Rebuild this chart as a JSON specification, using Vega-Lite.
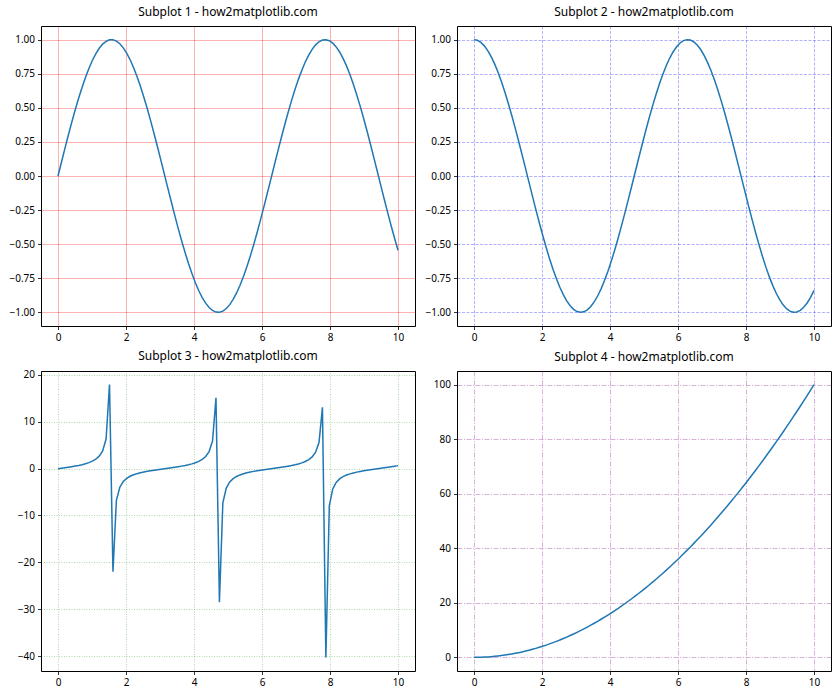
{
  "$schema": "https://vega.github.io/schema/vega-lite/v6.json",
  "background": "white",
  "padding": {"left": 8, "top": 5, "right": 5, "bottom": 5},
  "bounds": "flush",
  "columns": 2,
  "spacing": {"row": 45, "column": 42},
  "config": {
    "view": {"stroke": "#000", "strokeWidth": 1},
    "axis": {"domain": false, "tickColor": "#000", "tickSize": 3.5, "tickWidth": 0.8, "labelFont": "Noto Sans", "labelFontSize": 10, "labelColor": "#000", "labelPadding": 3, "gridWidth": 1, "gridOpacity": 0.3},
    "title": {"font": "Noto Sans", "fontSize": 12, "fontWeight": "normal", "color": "#000", "offset": 7},
    "line": {"color": "#1f77b4", "strokeWidth": 1.5}
  },
  "data": {"values": [
    {"x":0,"s":0,"c":1,"t":0,"q":0},
    {"x":0.101,"s":0.1008,"c":0.9949,"t":0.1014,"q":0.0102},
    {"x":0.202,"s":0.2007,"c":0.9797,"t":0.2048,"q":0.0408},
    {"x":0.303,"s":0.2984,"c":0.9544,"t":0.3127,"q":0.0918},
    {"x":0.404,"s":0.3931,"c":0.9195,"t":0.4276,"q":0.1632},
    {"x":0.5051,"s":0.4839,"c":0.8752,"t":0.5529,"q":0.2551},
    {"x":0.6061,"s":0.5696,"c":0.8219,"t":0.6931,"q":0.3673},
    {"x":0.7071,"s":0.6496,"c":0.7603,"t":0.8545,"q":0.4999},
    {"x":0.8081,"s":0.723,"c":0.6909,"t":1.0464,"q":0.653},
    {"x":0.9091,"s":0.789,"c":0.6145,"t":1.284,"q":0.8264},
    {"x":1.0101,"s":0.8469,"c":0.5318,"t":1.5926,"q":1.0203},
    {"x":1.1111,"s":0.8962,"c":0.4437,"t":2.02,"q":1.2346},
    {"x":1.2121,"s":0.9364,"c":0.351,"t":2.6674,"q":1.4692},
    {"x":1.3131,"s":0.967,"c":0.2548,"t":3.7947,"q":1.7243},
    {"x":1.4141,"s":0.9878,"c":0.156,"t":6.3309,"q":1.9998},
    {"x":1.5152,"s":0.9985,"c":0.0556,"t":17.952,"q":2.2957},
    {"x":1.6162,"s":0.999,"c":-0.0453,"t":-22.029,"q":2.612},
    {"x":1.7172,"s":0.9893,"c":-0.1459,"t":-6.7831,"q":2.9487},
    {"x":1.8182,"s":0.9696,"c":-0.2449,"t":-3.9595,"q":3.3058},
    {"x":1.9192,"s":0.9399,"c":-0.3414,"t":-2.7532,"q":3.6833},
    {"x":2.0202,"s":0.9007,"c":-0.4344,"t":-2.0733,"q":4.0812},
    {"x":2.1212,"s":0.8523,"c":-0.523,"t":-1.6295,"q":4.4995},
    {"x":2.2222,"s":0.7952,"c":-0.6063,"t":-1.3116,"q":4.9383},
    {"x":2.3232,"s":0.73,"c":-0.6834,"t":-1.0682,"q":5.3974},
    {"x":2.4242,"s":0.6574,"c":-0.7536,"t":-0.8724,"q":5.877},
    {"x":2.5253,"s":0.5781,"c":-0.816,"t":-0.7084,"q":6.3769},
    {"x":2.6263,"s":0.4928,"c":-0.8701,"t":-0.5664,"q":6.8973},
    {"x":2.7273,"s":0.4026,"c":-0.9154,"t":-0.4398,"q":7.438},
    {"x":2.8283,"s":0.3082,"c":-0.9513,"t":-0.324,"q":7.9992},
    {"x":2.9293,"s":0.2107,"c":-0.9776,"t":-0.2155,"q":8.5807},
    {"x":3.0303,"s":0.1111,"c":-0.9938,"t":-0.1118,"q":9.1827},
    {"x":3.1313,"s":0.0103,"c":-0.9999,"t":-0.0103,"q":9.8051},
    {"x":3.2323,"s":-0.0906,"c":-0.9959,"t":0.091,"q":10.4479},
    {"x":3.3333,"s":-0.1906,"c":-0.9817,"t":0.1941,"q":11.1111},
    {"x":3.4343,"s":-0.2886,"c":-0.9575,"t":0.3014,"q":11.7947},
    {"x":3.5354,"s":-0.3837,"c":-0.9235,"t":0.4155,"q":12.4987},
    {"x":3.6364,"s":-0.4748,"c":-0.8801,"t":0.5395,"q":13.2231},
    {"x":3.7374,"s":-0.5612,"c":-0.8277,"t":0.678,"q":13.968},
    {"x":3.8384,"s":-0.6418,"c":-0.7669,"t":0.8368,"q":14.7332},
    {"x":3.9394,"s":-0.7158,"c":-0.6983,"t":1.0251,"q":15.5188},
    {"x":4.0404,"s":-0.7826,"c":-0.6225,"t":1.2571,"q":16.3249},
    {"x":4.1414,"s":-0.8414,"c":-0.5405,"t":1.5568,"q":17.1513},
    {"x":4.2424,"s":-0.8916,"c":-0.4529,"t":1.9688,"q":17.9982},
    {"x":4.3434,"s":-0.9327,"c":-0.3606,"t":2.5863,"q":18.8654},
    {"x":4.4444,"s":-0.9643,"c":-0.2648,"t":3.6424,"q":19.7531},
    {"x":4.5455,"s":-0.9861,"c":-0.1662,"t":5.9346,"q":20.6612},
    {"x":4.6465,"s":-0.9978,"c":-0.0659,"t":15.146,"q":21.5896},
    {"x":4.7475,"s":-0.9994,"c":0.0351,"t":-28.494,"q":22.5385},
    {"x":4.8485,"s":-0.9908,"c":0.1357,"t":-7.3027,"q":23.5078},
    {"x":4.9495,"s":-0.972,"c":0.2349,"t":-4.1382,"q":24.4975},
    {"x":5.0505,"s":-0.9434,"c":0.3317,"t":-2.844,"q":25.5076},
    {"x":5.1515,"s":-0.9051,"c":0.4252,"t":-2.129,"q":26.5381},
    {"x":5.2525,"s":-0.8576,"c":0.5143,"t":-1.6677,"q":27.589},
    {"x":5.3535,"s":-0.8014,"c":0.5981,"t":-1.3399,"q":28.6603},
    {"x":5.4545,"s":-0.737,"c":0.6759,"t":-1.0904,"q":29.7521},
    {"x":5.5556,"s":-0.6651,"c":0.7468,"t":-0.8907,"q":30.8642},
    {"x":5.6566,"s":-0.5864,"c":0.81,"t":-0.7239,"q":31.9967},
    {"x":5.7576,"s":-0.5017,"c":0.865,"t":-0.58,"q":33.1497},
    {"x":5.8586,"s":-0.412,"c":0.9112,"t":-0.4521,"q":34.323},
    {"x":5.9596,"s":-0.318,"c":0.9481,"t":-0.3354,"q":35.5168},
    {"x":6.0606,"s":-0.2208,"c":0.9753,"t":-0.2263,"q":36.7309},
    {"x":6.1616,"s":-0.1213,"c":0.9926,"t":-0.1222,"q":37.9655},
    {"x":6.2626,"s":-0.0206,"c":0.9998,"t":-0.0206,"q":39.2205},
    {"x":6.3636,"s":0.0804,"c":0.9968,"t":0.0806,"q":40.4959},
    {"x":6.4646,"s":0.1805,"c":0.9836,"t":0.1835,"q":41.7917},
    {"x":6.5657,"s":0.2787,"c":0.9604,"t":0.2902,"q":43.1078},
    {"x":6.6667,"s":0.3742,"c":0.9274,"t":0.4035,"q":44.4444},
    {"x":6.7677,"s":0.4658,"c":0.8849,"t":0.5263,"q":45.8014},
    {"x":6.8687,"s":0.5526,"c":0.8334,"t":0.6631,"q":47.1789},
    {"x":6.9697,"s":0.6338,"c":0.7735,"t":0.8195,"q":48.5767},
    {"x":7.0707,"s":0.7086,"c":0.7056,"t":1.0043,"q":49.9949},
    {"x":7.1717,"s":0.7762,"c":0.6306,"t":1.2309,"q":51.4335},
    {"x":7.2727,"s":0.8358,"c":0.5491,"t":1.5222,"q":52.8926},
    {"x":7.3737,"s":0.8869,"c":0.462,"t":1.9197,"q":54.372},
    {"x":7.4747,"s":0.929,"c":0.3702,"t":2.5093,"q":55.8718},
    {"x":7.5758,"s":0.9616,"c":0.2747,"t":3.501,"q":57.3921},
    {"x":7.6768,"s":0.9843,"c":0.1763,"t":5.5837,"q":58.9328},
    {"x":7.7778,"s":0.9971,"c":0.0761,"t":13.097,"q":60.4938},
    {"x":7.8788,"s":0.9997,"c":-0.0248,"t":-40.305,"q":62.0753},
    {"x":7.9798,"s":0.9921,"c":-0.1255,"t":-7.9065,"q":63.6772},
    {"x":8.0808,"s":0.9744,"c":-0.2249,"t":-4.3328,"q":65.2995},
    {"x":8.1818,"s":0.9467,"c":-0.322,"t":-2.9402,"q":66.9421},
    {"x":8.2828,"s":0.9095,"c":-0.4158,"t":-2.1871,"q":68.6052},
    {"x":8.3838,"s":0.8629,"c":-0.5054,"t":-1.7073,"q":70.2887},
    {"x":8.4848,"s":0.8075,"c":-0.5899,"t":-1.369,"q":71.9927},
    {"x":8.5859,"s":0.7439,"c":-0.6683,"t":-1.1132,"q":73.717},
    {"x":8.6869,"s":0.6727,"c":-0.7399,"t":-0.9093,"q":75.4617},
    {"x":8.7879,"s":0.5947,"c":-0.8039,"t":-0.7397,"q":77.2268},
    {"x":8.8889,"s":0.5106,"c":-0.8598,"t":-0.5939,"q":79.0123},
    {"x":8.9899,"s":0.4213,"c":-0.9069,"t":-0.4645,"q":80.8183},
    {"x":9.0909,"s":0.3277,"c":-0.9448,"t":-0.3469,"q":82.6446},
    {"x":9.1919,"s":0.2308,"c":-0.973,"t":-0.2372,"q":84.4914},
    {"x":9.2929,"s":0.1315,"c":-0.9913,"t":-0.1326,"q":86.3585},
    {"x":9.3939,"s":0.0308,"c":-0.9995,"t":-0.0308,"q":88.2461},
    {"x":9.4949,"s":-0.0701,"c":-0.9975,"t":0.0703,"q":90.1541},
    {"x":9.596,"s":-0.1704,"c":-0.9854,"t":0.1729,"q":92.0824},
    {"x":9.697,"s":-0.2688,"c":-0.9622,"t":0.2794,"q":94.0312},
    {"x":9.798,"s":-0.3646,"c":-0.9312,"t":0.3916,"q":96.0004},
    {"x":9.899,"s":-0.4566,"c":-0.8897,"t":0.5133,"q":97.99},
    {"x":10,"s":-0.544,"c":-0.8391,"t":0.6484,"q":100}
  ]},
  "concat": [
    {
      "title": "Subplot 1 - how2matplotlib.com",
      "width": 374, "height": 300,
      "mark": {"type": "line"},
      "encoding": {
        "x": {"field": "x", "type": "quantitative", "title": null, "scale": {"domain": [-0.5, 10.5], "nice": false, "zero": false},
              "axis": {"values": [0,2,4,6,8,10], "format": "d", "gridColor": "#ff0000"}},
        "y": {"field": "s", "type": "quantitative", "title": null, "scale": {"domain": [-1.1, 1.1], "nice": false, "zero": false},
              "axis": {"values": [-1,-0.75,-0.5,-0.25,0,0.25,0.5,0.75,1], "format": ".2f", "gridColor": "#ff0000"}}
      }
    },
    {
      "title": "Subplot 2 - how2matplotlib.com",
      "width": 374, "height": 300,
      "mark": {"type": "line"},
      "encoding": {
        "x": {"field": "x", "type": "quantitative", "title": null, "scale": {"domain": [-0.5, 10.5], "nice": false, "zero": false},
              "axis": {"values": [0,2,4,6,8,10], "format": "d", "gridColor": "#0000ff", "gridDash": [3, 1.5]}},
        "y": {"field": "c", "type": "quantitative", "title": null, "scale": {"domain": [-1.1, 1.1], "nice": false, "zero": false},
              "axis": {"values": [-1,-0.75,-0.5,-0.25,0,0.25,0.5,0.75,1], "format": ".2f", "gridColor": "#0000ff", "gridDash": [3, 1.5]}}
      }
    },
    {
      "title": "Subplot 3 - how2matplotlib.com",
      "width": 374, "height": 300,
      "mark": {"type": "line"},
      "encoding": {
        "x": {"field": "x", "type": "quantitative", "title": null, "scale": {"domain": [-0.5, 10.5], "nice": false, "zero": false},
              "axis": {"values": [0,2,4,6,8,10], "format": "d", "gridColor": "#008000", "gridDash": [1, 1.5]}},
        "y": {"field": "t", "type": "quantitative", "title": null, "scale": {"domain": [-43.2, 20.85], "nice": false, "zero": false},
              "axis": {"values": [-40,-30,-20,-10,0,10,20], "format": "d", "gridColor": "#008000", "gridDash": [1, 1.5]}}
      }
    },
    {
      "title": "Subplot 4 - how2matplotlib.com",
      "width": 374, "height": 300,
      "mark": {"type": "line"},
      "encoding": {
        "x": {"field": "x", "type": "quantitative", "title": null, "scale": {"domain": [-0.5, 10.5], "nice": false, "zero": false},
              "axis": {"values": [0,2,4,6,8,10], "format": "d", "gridColor": "#800080", "gridDash": [5, 1.5, 1, 1.5]}},
        "y": {"field": "q", "type": "quantitative", "title": null, "scale": {"domain": [-5, 105], "nice": false, "zero": false},
              "axis": {"values": [0,20,40,60,80,100], "format": "d", "gridColor": "#800080", "gridDash": [5, 1.5, 1, 1.5]}}
      }
    }
  ]
}
